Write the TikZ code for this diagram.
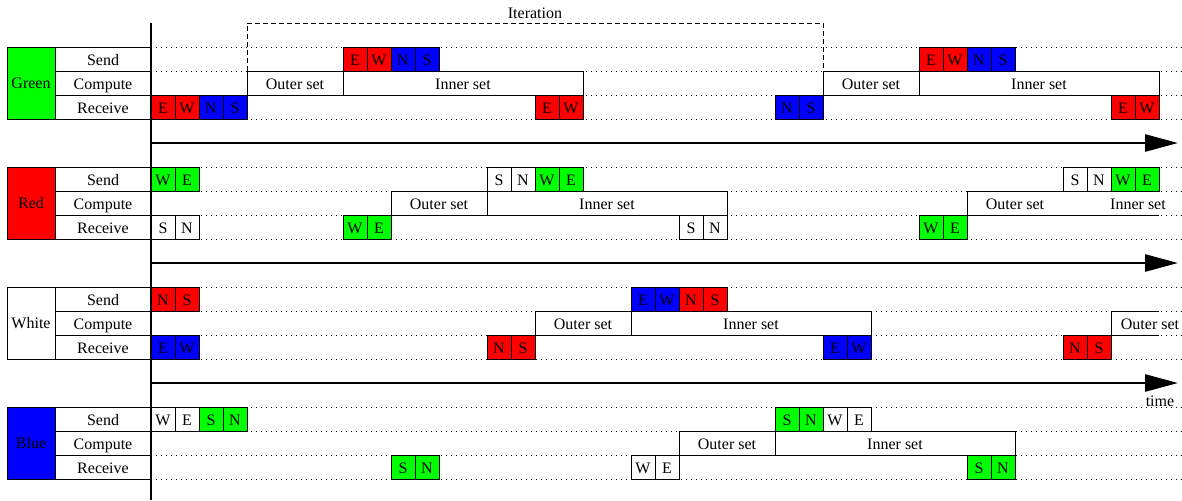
\documentclass[tikz,border=0pt]{standalone}
\usepackage{fontspec}
\setmainfont{Liberation Serif}
\usetikzlibrary{arrows.meta}
\definecolor{cR}{RGB}{255,0,0}
\definecolor{cG}{RGB}{0,255,0}
\definecolor{cB}{RGB}{0,0,255}
\newcommand{\cellC}[5]{\node[cellbox,fill=#4] (#1) at ({163+24*#2},#3) {#5};}
\newcommand{\outerC}[3]{\node[outerbox] (#1) at ({199+24*#2},#3) {Outer set};}
\newcommand{\innerC}[3]{\node[innerbox] (#1) at ({271+24*#2},#3) {Inner set};}
\begin{document}
\begin{tikzpicture}[x=0.75pt,y=-0.75pt,font=\fontsize{12pt}{14pt}\selectfont,
  cellbox/.style={draw,line width=0.6pt,minimum width=18pt,minimum height=18pt,inner sep=0pt,text height=11pt,text depth=1.5pt},
  outerbox/.style={draw,fill=white,line width=0.6pt,minimum width=72pt,minimum height=18pt,inner sep=0pt,text height=11pt,text depth=1.5pt},
  innerbox/.style={outerbox,minimum width=180pt},
  labbox/.style={draw,line width=0.6pt,minimum width=72pt,minimum height=18pt,inner sep=0pt,text height=11pt,text depth=1.5pt},
  procbox/.style={draw,line width=0.6pt,minimum width=36pt,minimum height=54pt,inner sep=0pt},
  dotline/.style={line width=0.6pt,dash pattern=on 0.75pt off 3pt},
  axisline/.style={line width=1.6pt},
  timearrow/.style={line width=2pt,-{Triangle[length=24.75pt,width=12.75pt]}},
  iterline/.style={line width=0.6pt,dash pattern=on 3.75pt off 2.25pt}]
\useasboundingbox (0,0) rectangle (1182,500);

% background dotted guides
\foreach \t in {47,167,287,407}{
  \foreach \d in {0,24,48,72}{
    \draw[dotline] (151,\t+\d) -- (1182,\t+\d);
  }
}

% iteration bracket
\coordinate (it1) at (247,71);
\coordinate (it2) at (247,23);
\coordinate (it3) at (823,23);
\coordinate (it4) at (823,71);
\draw[iterline] (it1) -- (it2) -- (it3) -- (it4);
\node (iter) at (535,13) {Iteration};

% process labels
\node[procbox,fill=cG] (green) at (31,83) {Green};
\node[labbox] (gsend) at (103,59) {Send};
\node[labbox] (gcomp) at (103,83) {Compute};
\node[labbox] (grecv) at (103,107) {Receive};

\node[procbox,fill=cR] (red) at (31,203) {Red};
\node[labbox] (rsend) at (103,179) {Send};
\node[labbox] (rcomp) at (103,203) {Compute};
\node[labbox] (rrecv) at (103,227) {Receive};

\node[procbox,fill=white] (white) at (31,323) {White};
\node[labbox] (wsend) at (103,299) {Send};
\node[labbox] (wcomp) at (103,323) {Compute};
\node[labbox] (wrecv) at (103,347) {Receive};

\node[procbox,fill=cB] (blue) at (31,443) {Blue};
\node[labbox] (bsend) at (103,419) {Send};
\node[labbox] (bcomp) at (103,443) {Compute};
\node[labbox] (brecv) at (103,467) {Receive};

% ===== Green =====
\cellC{gs1}{8}{59}{cR}{E}\cellC{gs2}{9}{59}{cR}{W}\cellC{gs3}{10}{59}{cB}{N}\cellC{gs4}{11}{59}{cB}{S}
\cellC{gs5}{32}{59}{cR}{E}\cellC{gs6}{33}{59}{cR}{W}\cellC{gs7}{34}{59}{cB}{N}\cellC{gs8}{35}{59}{cB}{S}
\outerC{go1}{4}{83}\innerC{gi1}{8}{83}
\outerC{go2}{28}{83}\innerC{gi2}{32}{83}
\cellC{gr1}{0}{107}{cR}{E}\cellC{gr2}{1}{107}{cR}{W}\cellC{gr3}{2}{107}{cB}{N}\cellC{gr4}{3}{107}{cB}{S}
\cellC{gr5}{16}{107}{cR}{E}\cellC{gr6}{17}{107}{cR}{W}
\cellC{gr7}{26}{107}{cB}{N}\cellC{gr8}{27}{107}{cB}{S}
\cellC{gr9}{40}{107}{cR}{E}\cellC{gr10}{41}{107}{cR}{W}

% ===== Red =====
\cellC{rs1}{0}{179}{cG}{W}\cellC{rs2}{1}{179}{cG}{E}
\cellC{rs3}{14}{179}{white}{S}\cellC{rs4}{15}{179}{white}{N}\cellC{rs5}{16}{179}{cG}{W}\cellC{rs6}{17}{179}{cG}{E}
\outerC{ro1}{10}{203}\innerC{ri1}{14}{203}
\outerC{ro2}{34}{203}
\fill[white] (1063,191) rectangle (1159,215);
\draw[line width=0.6pt] (1063,191) -- (1159,191) (1063,215) -- (1159,215);
\node[inner sep=0pt,text height=11pt,text depth=1.5pt] (ri2) at (1138,203) {Inner set};
\cellC{rs7}{38}{179}{white}{S}\cellC{rs8}{39}{179}{white}{N}\cellC{rs9}{40}{179}{cG}{W}\cellC{rs10}{41}{179}{cG}{E}
\cellC{rr1}{0}{227}{white}{S}\cellC{rr2}{1}{227}{white}{N}
\cellC{rr3}{8}{227}{cG}{W}\cellC{rr4}{9}{227}{cG}{E}
\cellC{rr5}{22}{227}{white}{S}\cellC{rr6}{23}{227}{white}{N}
\cellC{rr7}{32}{227}{cG}{W}\cellC{rr8}{33}{227}{cG}{E}

% ===== White =====
\cellC{ws1}{0}{299}{cR}{N}\cellC{ws2}{1}{299}{cR}{S}
\cellC{ws3}{20}{299}{cB}{E}\cellC{ws4}{21}{299}{cB}{W}\cellC{ws5}{22}{299}{cR}{N}\cellC{ws6}{23}{299}{cR}{S}
\outerC{wo1}{16}{323}\innerC{wi1}{20}{323}
\fill[white] (1111,311) rectangle (1159,335);
\draw[line width=0.6pt] (1159,311) -- (1111,311) -- (1111,335) -- (1159,335);
\node[inner sep=0pt,text height=11pt,text depth=1.5pt] (wo2) at (1150,323) {Outer set};
\cellC{wr1}{0}{347}{cB}{E}\cellC{wr2}{1}{347}{cB}{W}
\cellC{wr3}{14}{347}{cR}{N}\cellC{wr4}{15}{347}{cR}{S}
\cellC{wr5}{28}{347}{cB}{E}\cellC{wr6}{29}{347}{cB}{W}
\cellC{wr7}{38}{347}{cR}{N}\cellC{wr8}{39}{347}{cR}{S}

% ===== Blue =====
\cellC{bs1}{0}{419}{white}{W}\cellC{bs2}{1}{419}{white}{E}\cellC{bs3}{2}{419}{cG}{S}\cellC{bs4}{3}{419}{cG}{N}
\cellC{bs5}{26}{419}{cG}{S}\cellC{bs6}{27}{419}{cG}{N}\cellC{bs7}{28}{419}{white}{W}\cellC{bs8}{29}{419}{white}{E}
\outerC{bo1}{22}{443}\innerC{bi1}{26}{443}
\cellC{br1}{10}{467}{cG}{S}\cellC{br2}{11}{467}{cG}{N}
\cellC{br3}{20}{467}{white}{W}\cellC{br4}{21}{467}{white}{E}
\cellC{br5}{34}{467}{cG}{S}\cellC{br6}{35}{467}{cG}{N}

% axis and time arrows
\coordinate (axtop) at (151,23);
\coordinate (axbot) at (151,500);
\draw[axisline] (axtop) -- (axbot);
\coordinate (t1a) at (151,143);\coordinate (t1b) at (1178,143);
\coordinate (t2a) at (151,263);\coordinate (t2b) at (1178,263);
\coordinate (t3a) at (151,383);\coordinate (t3b) at (1178,383);
\draw[timearrow] (t1a) -- (t1b);
\draw[timearrow] (t2a) -- (t2b);
\draw[timearrow] (t3a) -- (t3b);
\node (time) at (1160,401) {time};
\end{tikzpicture}
\end{document}
